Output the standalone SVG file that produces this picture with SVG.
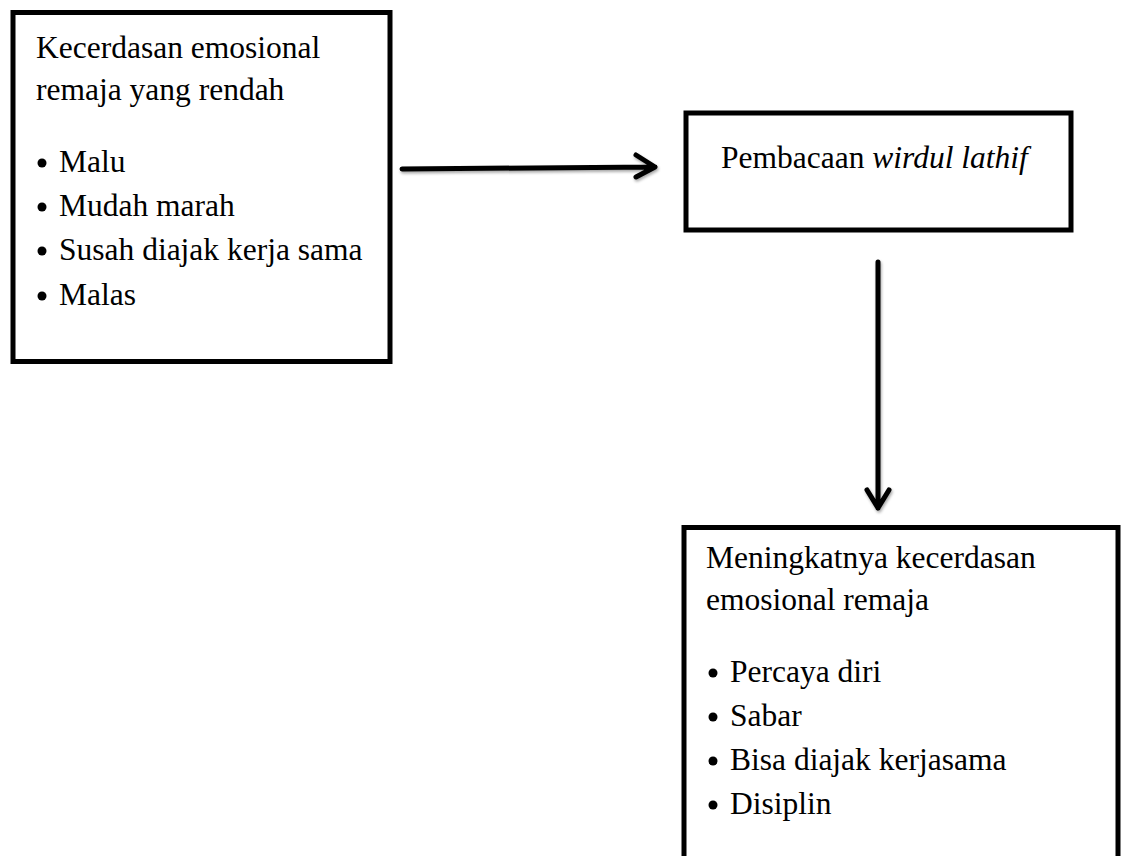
<svg xmlns="http://www.w3.org/2000/svg" width="1125" height="856" viewBox="0 0 1125 856">
<style>
.box{fill:#fff;stroke:#000;stroke-width:5}
.t{font-family:"Liberation Serif","Times New Roman",serif;font-size:31.5px;fill:#000}
.conn{stroke:#000;stroke-width:5;fill:none;stroke-linecap:round;stroke-linejoin:round}
</style>
<defs>
<filter id="sh" x="-10%" y="-10%" width="120%" height="120%">
<feGaussianBlur in="SourceAlpha" stdDeviation="1.5"/>
<feOffset dx="1" dy="2" result="b"/>
<feComponentTransfer><feFuncA type="linear" slope="0.35"/></feComponentTransfer>
<feMerge><feMergeNode/><feMergeNode in="SourceGraphic"/></feMerge>
</filter>
</defs>
<rect width="1125" height="856" fill="#fff"/>
<g id="node-rendah">
<rect class="box" x="13" y="12.5" width="377" height="349"/>
<text class="t" x="36" y="58">Kecerdasan emosional</text>
<text class="t" x="36" y="100">remaja yang rendah</text>
<circle cx="42" cy="163" r="4.5"/><text class="t" x="59" y="172">Malu</text>
<circle cx="42" cy="207" r="4.5"/><text class="t" x="59" y="216">Mudah marah</text>
<circle cx="42" cy="251" r="4.5"/><text class="t" x="59" y="260">Susah diajak kerja sama</text>
<circle cx="42" cy="296" r="4.5"/><text class="t" x="59" y="305">Malas</text>
</g>
<g id="node-wirdul">
<rect class="box" x="686" y="113" width="385" height="117"/>
<text class="t" x="721" y="168">Pembacaan <tspan font-style="italic">wirdul lathif</tspan></text>
</g>
<g id="node-meningkat">
<rect class="box" x="684" y="527.5" width="434" height="350"/>
<text class="t" x="706" y="568">Meningkatnya kecerdasan</text>
<text class="t" x="706" y="610">emosional remaja</text>
<circle cx="713" cy="673" r="4.5"/><text class="t" x="730" y="682">Percaya diri</text>
<circle cx="713" cy="717" r="4.5"/><text class="t" x="730" y="726">Sabar</text>
<circle cx="713" cy="761" r="4.5"/><text class="t" x="730" y="770">Bisa diajak kerjasama</text>
<circle cx="713" cy="805" r="4.5"/><text class="t" x="730" y="814">Disiplin</text>
</g>
<g id="connectors" filter="url(#sh)">
<path class="conn" d="M402 169 L655 167 M636 155 L655 167 L636 177"/>
<path class="conn" d="M878 262 L878 508 M867 490 L878 508 L889 490"/>
</g>
</svg>
